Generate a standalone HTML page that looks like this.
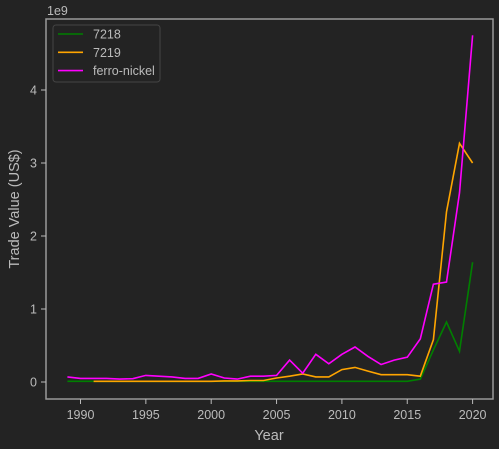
<!DOCTYPE html>
<html><head><meta charset="utf-8"><style>
html,body{margin:0;padding:0;background:#232323;}
svg{display:block;font-family:"Liberation Sans",sans-serif;}
</style></head><body>
<svg id="chart" width="499" height="449">
<rect x="0" y="0" width="499" height="449" fill="#232323"/>
<g id="plot"></g>
</svg>
<script>
const years=[1989,1990,1991,1992,1993,1994,1995,1996,1997,1998,1999,2000,2001,2002,2003,2004,2005,2006,2007,2008,2009,2010,2011,2012,2013,2014,2015,2016,2017,2018,2019,2020];
const s7218=[0.01,0.01,0.01,0.01,0.01,0.01,0.01,0.01,0.01,0.01,0.01,0.01,0.01,0.01,0.01,0.01,0.01,0.01,0.01,0.01,0.01,0.01,0.01,0.01,0.01,0.01,0.01,0.04,0.44,0.82,0.42,1.64];
const s7219=[null,null,0.01,0.01,0.01,0.01,0.01,0.01,0.01,0.01,0.01,0.01,0.015,0.015,0.02,0.02,0.055,0.08,0.11,0.07,0.07,0.17,0.2,0.15,0.1,0.1,0.1,0.08,0.58,2.33,3.27,3.0];
const sFerro=[0.07,0.05,0.05,0.05,0.04,0.045,0.09,0.08,0.07,0.05,0.05,0.11,0.055,0.04,0.08,0.08,0.09,0.30,0.12,0.38,0.25,0.38,0.48,0.35,0.24,0.30,0.34,0.59,1.34,1.37,2.59,4.75];
const xTicks=[1990,1995,2000,2005,2010,2015,2020];
const yTicks=[0,1,2,3,4];
const seriesNames=["7218","7219","ferro-nickel"];
const seriesColors=["#008000","#FFA500","#FF00FF"];

const L=46,R=493,T=19,B=399;
const xs=y=>80.5+(y-1990)*13.07;
const ys=v=>382-v*73;
const NS="http://www.w3.org/2000/svg";
const g=document.getElementById('plot');
function mk(tag,attrs,parent){const e=document.createElementNS(NS,tag);for(const k in attrs)e.setAttribute(k,attrs[k]);(parent||g).appendChild(e);return e;}

const frame=mk('rect',{x:L,y:T,width:R-L,height:B-T,fill:'none',stroke:'#999',"stroke-width":1.5});



xTicks.forEach(t=>{
  const x=xs(t);
  const tk=mk('line',{x1:x,x2:x,y1:B,y2:B+5,stroke:'#bbb',"stroke-width":1});
  
  
  const tx=mk('text',{x:x,y:B+20,"text-anchor":"middle","font-size":12.5,fill:'#bbb'});
  tx.textContent=t;
  
  
});
yTicks.forEach(t=>{
  const y=ys(t);
  const tk=mk('line',{x1:L-5,x2:L,y1:y,y2:y,stroke:'#bbb',"stroke-width":1});
  
  
  const tx=mk('text',{x:L-9,y:y+4.5,"text-anchor":"end","font-size":12.5,fill:'#bbb'});
  tx.textContent=t;
  
  
});
const off=mk('text',{x:47,y:15,"font-size":12.5,fill:'#bbb'});
off.textContent='1e9';


const xl=mk('text',{x:269,y:440,"text-anchor":"middle","font-size":14.5,fill:'#bbb'});
xl.textContent='Year';


const yl=mk('text',{x:0,y:0,"text-anchor":"middle","font-size":14.5,fill:'#bbb',transform:'translate(19,209) rotate(-90)'});
yl.textContent='Trade Value (US$)';



[s7218,s7219,sFerro].forEach((s,i)=>{
  let d='';let started=false;
  s.forEach((v,j)=>{if(v===null)return;d+=(started?'L':'M')+xs(years[j]).toFixed(1)+','+ys(v).toFixed(1);started=true;});
  const p=mk('path',{d:d,fill:'none',stroke:seriesColors[i],"stroke-width":1.6});
  
  
});

const lg=mk('rect',{x:53,y:25,width:107,height:57,rx:3,fill:'#232323',stroke:'#444',"stroke-width":1});


seriesNames.forEach((n,i)=>{
  const y=34+i*18.3;
  const ln=mk('line',{x1:58,x2:83,y1:y,y2:y,stroke:seriesColors[i],"stroke-width":1.6});
  
  
  const tx=mk('text',{x:93,y:y+4.5,"font-size":12.5,fill:'#bbb'});
  tx.textContent=n;
  
  
});
</script>
</body></html>
